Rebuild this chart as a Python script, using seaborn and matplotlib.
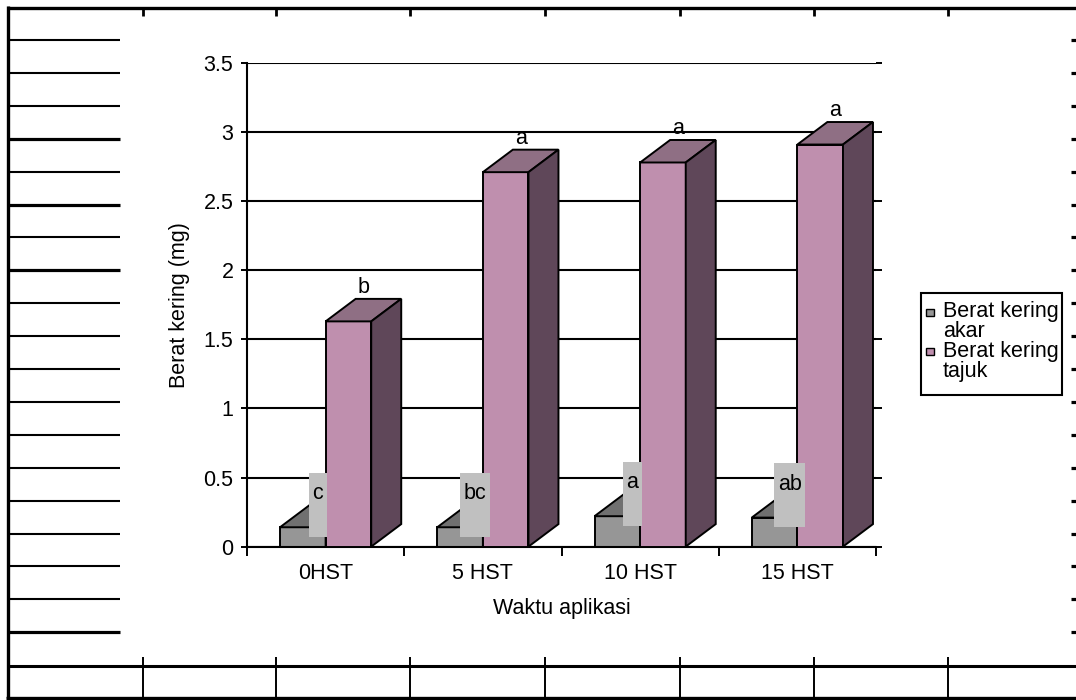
import numpy as np
import pandas as pd
import matplotlib
matplotlib.use("Agg")
import matplotlib.pyplot as plt
from matplotlib.patches import Polygon, Rectangle
from matplotlib.ticker import FixedLocator
import seaborn as sns

# ---- data -------------------------------------------------------------
waktu = ["0HST", "5 HST", "10 HST", "15 HST"]
akar = [0.14, 0.14, 0.22, 0.21]
tajuk = [1.63, 2.71, 2.78, 2.91]
notasi_akar = ["c", "bc", "a", "ab"]
notasi_tajuk = ["b", "a", "a", "a"]
komponen = ["Berat kering\nakar", "Berat kering\ntajuk"]
y_ticks = [0, 0.5, 1, 1.5, 2, 2.5, 3, 3.5]
y_tick_labels = ["0", "0.5", "1", "1.5", "2", "2.5", "3", "3.5"]

df = pd.DataFrame({
    "waktu": waktu * 2,
    "berat": akar + tajuk,
    "komponen": [komponen[0]] * len(waktu) + [komponen[1]] * len(waktu),
})

# ---- style ------------------------------------------------------------
sns.set_theme(style="white")
plt.rcParams["font.family"] = ["Liberation Sans", "DejaVu Sans"]
FS = 15.5
PX = 0.72  # points per pixel at 100 dpi

front_col = ["#969696", "#BF8FAE"]
top_col = ["#707070", "#8F6F84"]
side_col = ["#4A4A4A", "#5F4759"]
box_col = "#C0C0C0"

W, H = 1076, 700
fig = plt.figure(figsize=(W / 100, H / 100), dpi=100)
fig.patch.set_facecolor("white")

# page-like frame drawn in pixel coordinates behind the chart
frame = fig.add_axes([0, 0, 1, 1], zorder=0)
frame.set_xlim(0, W)
frame.set_ylim(H, 0)
frame.axis("off")

ax_left, ax_right, ax_top, ax_bottom = 247, 876, 63, 546.6
ax = fig.add_axes([ax_left / W, (H - ax_bottom) / H,
                   (ax_right - ax_left) / W, (ax_bottom - ax_top) / H], zorder=1)
ax.patch.set_alpha(0)

sns.barplot(data=df, x="waktu", y="berat", hue="komponen", order=waktu,
            hue_order=komponen, palette=front_col, width=0.58, saturation=1,
            edgecolor="black", linewidth=1.4, errorbar=None, legend=False, ax=ax)

ax.set_xlim(-0.5, len(waktu) - 0.5)
ax.set_ylim(0, 3.5)

# pixel -> data scale for the extruded faces
px_x = (ax_right - ax_left) / len(waktu)
px_y = (ax_bottom - ax_top) / 3.5
dx = 30 / px_x
dy = 22.5 / px_y

for i, cont in enumerate(ax.containers):
    for bar in cont:
        x0, w, h = bar.get_x(), bar.get_width(), bar.get_height()
        x1 = x0 + w
        bar.set_zorder(2 + i)
        top = Polygon([(x0, h), (x0 + dx, h + dy), (x1 + dx, h + dy), (x1, h)],
                      closed=True, fc=top_col[i], ec="black", lw=1.4,
                      zorder=2 + i + 0.05, joinstyle="miter")
        side = Polygon([(x1, 0), (x1 + dx, dy), (x1 + dx, h + dy), (x1, h)],
                       closed=True, fc=side_col[i], ec="black", lw=1.4,
                       zorder=2 + i + 0.05, joinstyle="miter")
        ax.add_patch(top)
        ax.add_patch(side)

# notation letters above the shoot bars
for bar, lab in zip(ax.containers[1], notasi_tajuk):
    cx = bar.get_x() + bar.get_width() / 2 + dx / 2
    ax.annotate(lab, (cx, bar.get_height() + dy), xytext=(0, 6 * PX),
                textcoords="offset points", ha="center", va="baseline",
                fontsize=FS, color="black", zorder=10, annotation_clip=False)

# notation letters for the root bars, on grey label boxes
fig.canvas.draw()
renderer = fig.canvas.get_renderer()
for bar, lab in zip(ax.containers[0], notasi_akar):
    cx = bar.get_x() + bar.get_width() / 2 + dx / 2
    cy = bar.get_height() + dy
    t = ax.annotate(lab, (cx, cy), xytext=(0, 5.5 * PX),
                    textcoords="offset points", ha="center", va="baseline",
                    fontsize=FS, color="black", zorder=10)
    tw = t.get_window_extent(renderer).width
    bw = (tw + 7) / px_x
    bh = 64 / px_y
    ax.add_patch(Rectangle((cx - bw / 2, cy - bh / 2), bw, bh, fc=box_col,
                           ec="none", zorder=9))

# ---- axes -------------------------------------------------------------
ax.set_axisbelow(True)
ax.yaxis.grid(True, color="black", lw=1.5)
ax.xaxis.grid(False)
for s in ("top", "right"):
    ax.spines[s].set_visible(False)
for s in ("left", "bottom"):
    ax.spines[s].set_color("black")
    ax.spines[s].set_linewidth(1.5)

ax.set_yticks(y_ticks)
ax.set_yticklabels(y_tick_labels)
ax.tick_params(axis="y", which="major", left=True, right=True, length=4.3,
               width=1.4, color="black", pad=5.5, labelsize=FS,
               labelcolor="black", direction="out")
ax.set_xticks(range(len(waktu)))
ax.set_xticklabels(waktu)
ax.tick_params(axis="x", which="major", length=0, pad=12, labelsize=FS,
               labelcolor="black")
ax.xaxis.set_minor_locator(FixedLocator(np.arange(-0.5, len(waktu), 1.0)))
ax.tick_params(axis="x", which="minor", bottom=True, length=6.5, width=1.4,
               color="black", direction="out")

ax.set_xlabel("Waktu aplikasi", fontsize=FS, color="black")
ax.set_ylabel("Berat kering (mg)", fontsize=FS, color="black")
ax.xaxis.set_label_coords(0.5, (ax_bottom - 598) / (ax_bottom - ax_top))
ax.yaxis.set_label_coords((190 - ax_left) / (ax_right - ax_left), 0.5)

# ---- legend -----------------------------------------------------------
frame.add_patch(Rectangle((920.5, 292.5), 141.5, 102.5, fill=False,
                          ec="black", lw=1.5, zorder=5))
baselines = [[317, 337], [356.5, 376.5]]
for i, name in enumerate(komponen):
    sq_y = baselines[i][0] - 8.5
    frame.add_patch(Rectangle((926, sq_y), 7.5, 7, fc=front_col[i], ec="black",
                              lw=1.0, zorder=6))
    for line, yb in zip(name.split("\n"), baselines[i]):
        frame.text(943, yb, line, fontsize=FS, color="black", ha="left",
                   va="baseline", zorder=6)

# ---- page frame -------------------------------------------------------
k = dict(color="black", solid_capstyle="butt")
frame.plot([7, W + 5], [7.5, 7.5], lw=2.4, **k)
frame.plot([7.5, 7.5], [6, 698], lw=2.4, **k)
frame.plot([6, W + 5], [697.5, 697.5], lw=2.4, **k)
frame.plot([7, W + 5], [666, 666], lw=2.2, **k)
for xc in [143, 276, 410, 545, 680, 814, 948]:
    frame.plot([xc, xc], [657, 697], lw=1.4, **k)
    frame.plot([xc, xc], [7, 16], lw=2.0, **k)
rows = 40 + 32.9 * np.arange(19)
for j, yr in enumerate(rows):
    frame.plot([7, 120], [yr, yr], lw=2.3 if j in (3, 5, 7, 18) else 1.5, **k)
    frame.plot([1071, W + 2], [yr, yr], lw=2.3, **k)

fig.savefig("out.png", dpi=100, facecolor="white")
